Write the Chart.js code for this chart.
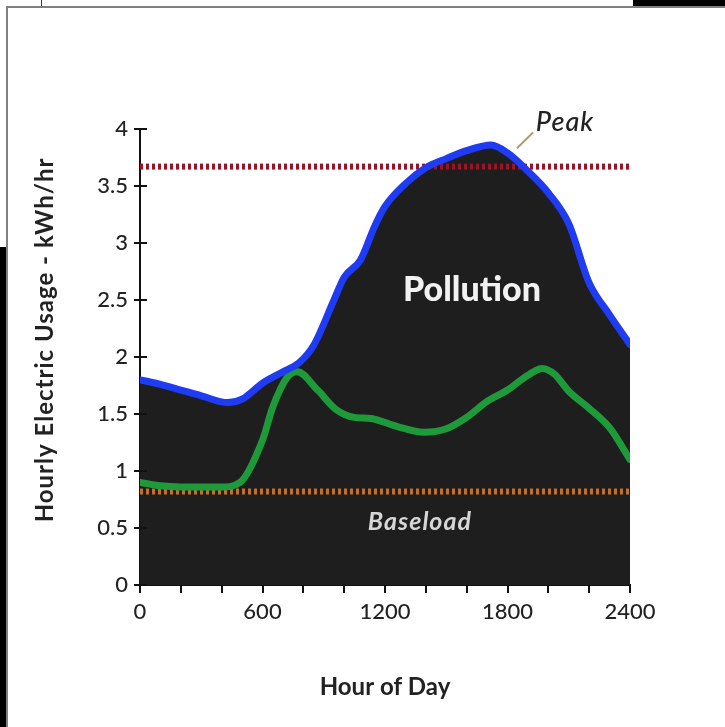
<!DOCTYPE html>
<html><head><meta charset="utf-8">
<script src="https://cdn.jsdelivr.net/npm/chart.js@4/dist/chart.umd.min.js"></script>
<style>
html,body{margin:0;padding:0;background:#fff;}
#wrap{position:relative;width:725px;height:727px;overflow:hidden;background:#fff;}
canvas{position:absolute;left:0;top:0;}
.d{position:absolute;}
</style></head><body>
<div id="wrap">
<canvas id="c" width="725" height="727"></canvas>
<div class="d" style="left:633px;top:0;width:92px;height:6px;background:#000"></div>
<div class="d" style="left:6px;top:6px;width:719px;height:2px;background:#808080"></div>
<div class="d" style="left:6px;top:6px;width:2px;height:721px;background:#808080"></div>
<div class="d" style="left:0;top:247px;width:6px;height:480px;background:#000"></div>
<div class="d" style="left:41px;top:0;width:1px;height:6px;background:#333"></div>
</div>
<script>
// ---- data ----
const totalHours = [0,100,200,300,430,500,600,700,780,850,950,1000,1080,1150,1200,1300,1400,1500,1600,1720,1800,1900,2000,2100,2200,2300,2400];
const totalUsage = [1.80,1.76,1.71,1.66,1.60,1.63,1.77,1.87,1.95,2.10,2.50,2.70,2.85,3.15,3.32,3.52,3.66,3.74,3.81,3.86,3.79,3.63,3.44,3.17,2.65,2.37,2.11];
const lowerHours = [0,100,200,300,400,490,600,650,720,770,870,960,1050,1130,1260,1390,1500,1600,1700,1800,1900,1970,2030,2100,2200,2300,2400];
const lowerUsage = [0.90,0.87,0.86,0.86,0.86,0.90,1.27,1.56,1.82,1.87,1.71,1.54,1.47,1.46,1.39,1.34,1.37,1.47,1.61,1.71,1.84,1.90,1.85,1.70,1.55,1.38,1.10];
const peakLevel = 3.67;
const baseloadLevel = 0.82;
const dayRange = [0, 2400];
const xLabelHours = [0, 600, 1200, 1800, 2400];
const yRange = [0, 4];

const toPts = (xs, ys) => xs.map((x, i) => ({x: x, y: ys[i]}));
const FONT = "Lato, 'Open Sans', sans-serif";

const annotations = {
  texts: [
    {text: 'Pollution', x: 1626, y: 2.59, font: "900 34px " + FONT, color: '#f2f2f2', spacing: '0px'},
    {text: 'Baseload', x: 1371, y: 0.55, font: "italic bold 25px " + FONT, color: '#d6d6d6', spacing: '1px'},
    {text: 'Peak', x: 2082, y: 4.06, font: "italic 500 27px " + FONT, color: '#222', spacing: '1px'}
  ],
  leader: {x1: 1846, y1: 3.83, x2: 1925, y2: 3.97, color: '#b09a6a'}
};

const extras = {
  id: 'extras',
  afterDraw(chart) {
    const {ctx, scales: {x, y}} = chart;
    ctx.save();
    // inner half of y tick marks
    ctx.strokeStyle = '#111'; ctx.lineWidth = 2;
    y.ticks.forEach(t => {
      const py = y.getPixelForValue(t.value);
      ctx.beginPath(); ctx.moveTo(x.left, py); ctx.lineTo(x.left + 7, py); ctx.stroke();
    });
    // leader line
    const L = annotations.leader;
    ctx.strokeStyle = L.color; ctx.lineWidth = 2;
    ctx.beginPath();
    ctx.moveTo(x.getPixelForValue(L.x1), y.getPixelForValue(L.y1));
    ctx.lineTo(x.getPixelForValue(L.x2), y.getPixelForValue(L.y2));
    ctx.stroke();
    ctx.textAlign = 'center'; ctx.textBaseline = 'middle';
    annotations.texts.forEach(a => {
      ctx.font = a.font; ctx.fillStyle = a.color; ctx.letterSpacing = a.spacing;
      ctx.fillText(a.text, x.getPixelForValue(a.x), y.getPixelForValue(a.y));
    });
    // y axis title
    ctx.translate(45, 340);
    ctx.rotate(-Math.PI / 2);
    ctx.font = "bold 24px " + FONT; ctx.fillStyle = '#222'; ctx.letterSpacing = '1px';
    ctx.fillText('Hourly Electric Usage - kWh/hr', 0, 0);
    ctx.restore();
  }
};

new Chart(document.getElementById('c'), {
  type: 'line',
  data: {
    datasets: [
      {label: 'Total usage', data: toPts(totalHours, totalUsage), borderColor: '#1f3cf2', borderWidth: 7,
       backgroundColor: '#1e1e1e', fill: 'origin', pointRadius: 0, cubicInterpolationMode: 'monotone', borderCapStyle: 'round', borderJoinStyle: 'round'},
      {label: 'Peak', data: toPts(dayRange, [peakLevel, peakLevel]), borderColor: '#9c1326', borderWidth: 6,
       borderDash: [3, 3], pointRadius: 0, fill: false},
      {label: 'Usage', data: toPts(lowerHours, lowerUsage), borderColor: '#1e9a3a', borderWidth: 7,
       pointRadius: 0, fill: false, cubicInterpolationMode: 'monotone', borderCapStyle: 'round'},
      {label: 'Baseload', data: toPts(dayRange, [baseloadLevel, baseloadLevel]), borderColor: '#c0702c', borderWidth: 6,
       borderDash: [3, 3], pointRadius: 0, fill: false}
    ]
  },
  options: {
    responsive: false,
    animation: false,
    devicePixelRatio: 1,
    layout: {padding: {left: 0, top: 129, right: 95, bottom: 0}},
    plugins: {legend: {display: false}, tooltip: {enabled: false}, filler: {drawTime: 'beforeDatasetsDraw'}},
    scales: {
      x: {
        type: 'linear', min: dayRange[0], max: dayRange[1],
        afterFit(s) { s.height = 142; },
        border: {display: true, color: '#111', width: 2},
        grid: {drawOnChartArea: false, drawTicks: true, tickLength: 8, color: '#111', lineWidth: 2},
        ticks: {stepSize: 200, autoSkip: false, maxRotation: 0, padding: 6, color: '#222',
                font: {family: FONT, size: 22, weight: '500'},
                callback: v => xLabelHours.includes(v) ? String(v) : ''},
        title: {display: true, text: 'Hour of Day', color: '#222', font: {family: FONT, size: 24, weight: 'bold'}, padding: {top: 0, bottom: 25}}
      },
      y: {
        min: yRange[0], max: yRange[1],
        afterFit(s) { s.width = 140; },
        border: {display: true, color: '#111', width: 2},
        grid: {drawOnChartArea: false, drawTicks: true, tickLength: 6, color: '#111', lineWidth: 2},
        ticks: {stepSize: 0.5, padding: 6, color: '#222', font: {family: FONT, size: 22, weight: '500'},
                callback: v => String(v)}
      }
    }
  },
  plugins: [extras]
});
</script>
</body></html>
